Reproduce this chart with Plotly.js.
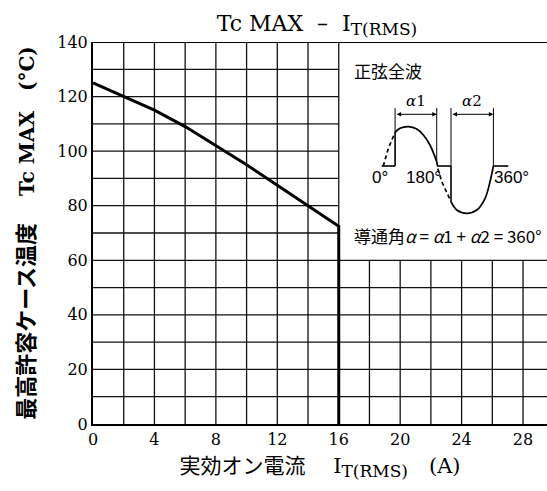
<!DOCTYPE html>
<html>
<head>
<meta charset="utf-8">
<script src="https://cdn.plot.ly/plotly-3.0.1.min.js"></script>
<style>html,body{margin:0;padding:0;background:#fff;}#chart{width:547px;height:491px;}</style>
</head>
<body>
<div id="chart"></div>
<script>
// ---- main curve: case temperature limit vs RMS on-current ----
const currentA = [0, 2, 4, 6, 8, 10, 12, 14, 16];
const tcMaxC   = [125, 120, 115, 109, 102, 95, 87.5, 80, 72.5];

// ---- tick labels ----
const xTickVals = [0, 4, 8, 12, 16, 20, 24, 28];
const yTickVals = [0, 20, 40, 60, 80, 100, 120, 140];

// ---- grid ----
const xGridVals = [2, 4, 6, 8, 10, 12, 14, 16, 18, 20, 22, 24, 26, 28];
const yGridVals = [10, 20, 30, 40, 50, 60, 70, 80, 90, 100, 110, 120, 130];

// ---- inset waveform sketch ----
const waveDash1X = [18.90, 19.23, 19.67];
const waveDash1Y = [94.55, 101.04, 106.9];
const wavePosX = [19.67, 19.99, 20.53, 21.08, 21.51, 21.94, 22.38];
const wavePosY = [106.9, 108.37, 108.96, 108.11, 105.91, 102.25, 96.13];
const waveDash2X = [22.38, 22.48, 22.71, 22.99, 23.31];
const waveDash2Y = [96.13, 93.09, 88.80, 85.14, 81.47];
const waveNegX = [23.31, 23.68, 24.33, 24.99, 25.53, 25.85, 26.07];
const waveNegY = [81.47, 78.43, 77.22, 78.43, 82.72, 88.80, 94.55];
const baseY = 94.55;
const baseSegsX = [[18.80, 19.67], [22.38, 23.31], [26.07, 27.04]];
const fireX = [19.67, 23.31];
const fireTopY = [106.9, 81.47];
const guideX = [19.67, 22.38, 23.31, 26.07];
const guideBottomY = [106.9, 96.13, 94.55, 94.55];
const guideTopY = 115.8;
const arrowY = 113.5;

const xMax = 29.56;
const insetX = 16, insetY = 60, yTop = 140;

const serif = 'DejaVu Serif, Noto Sans CJK JP, serif';
const cjk = 'Noto Sans CJK JP, sans-serif';

const shapes = [];
xGridVals.forEach(v => {
  shapes.push({type:'line', xref:'x', yref:'y', x0:v, x1:v, y0:0, y1: v <= insetX ? yTop : insetY,
    line:{color:'#111', width:1.3}, layer:'below'});
});
yGridVals.forEach(v => {
  shapes.push({type:'line', xref:'x', yref:'y', x0:0, x1: v <= insetY ? xMax : insetX, y0:v, y1:v,
    line:{color:'#111', width:1.3}, layer:'below'});
});
shapes.push({type:'line', xref:'x', yref:'y', x0:0, x1:xMax, y0:yTop, y1:yTop, line:{color:'#000', width:2.2}});

baseSegsX.forEach(s => shapes.push({type:'line', xref:'x', yref:'y', x0:s[0], x1:s[1], y0:baseY, y1:baseY, line:{color:'#000', width:1.6}}));
fireX.forEach((x, i) => shapes.push({type:'line', xref:'x', yref:'y', x0:x, x1:x, y0:baseY, y1:fireTopY[i], line:{color:'#000', width:1.6}}));
guideX.forEach((x, i) => shapes.push({type:'line', xref:'x', yref:'y', x0:x, x1:x, y0:guideBottomY[i], y1:guideTopY, line:{color:'#000', width:1}}));

const waveLine = {color:'#000', width:1.7};
const traces = [
  {x: currentA.concat([currentA[currentA.length-1]]), y: tcMaxC.concat([0]), mode:'lines',
   line:{color:'#000', width:3}, hoverinfo:'skip'},
  {x: waveDash1X, y: waveDash1Y, mode:'lines', line:Object.assign({dash:'4px,3px'}, waveLine), hoverinfo:'skip'},
  {x: wavePosX, y: wavePosY, mode:'lines', line:Object.assign({shape:'spline'}, waveLine), hoverinfo:'skip'},
  {x: waveDash2X, y: waveDash2Y, mode:'lines', line:Object.assign({dash:'4px,3px'}, waveLine), hoverinfo:'skip'},
  {x: waveNegX, y: waveNegY, mode:'lines', line:Object.assign({shape:'spline'}, waveLine), hoverinfo:'skip'}
];

const ann = [
  {x:16.85, y:129.7, xref:'x', yref:'y', xanchor:'left', yanchor:'middle', showarrow:false,
   text:'正弦全波', font:{family:cjk, size:17, color:'#000'}},
  {x:16.85, y:69, xref:'x', yref:'y', xanchor:'left', yanchor:'middle', showarrow:false,
   text:'導通角<i>α</i> = <i>α</i>1 + <i>α</i>2 = 360°', font:{family:cjk, size:17, color:'#000'}},
  {x:18.66, y:90.4, xref:'x', yref:'y', showarrow:false, text:'0°', font:{family:'Liberation Sans, sans-serif', size:17, color:'#000'}},
  {x:21.55, y:90.4, xref:'x', yref:'y', showarrow:false, text:'180°', font:{family:'Liberation Sans, sans-serif', size:17, color:'#000'}},
  {x:27.28, y:90.4, xref:'x', yref:'y', showarrow:false, text:'360°', font:{family:'Liberation Sans, sans-serif', size:17, color:'#000'}},
  {x:21.01, y:118.2, xref:'x', yref:'y', showarrow:false, text:'<i>α</i>1', font:{family:serif, size:15, color:'#000'}},
  {x:24.66, y:118.2, xref:'x', yref:'y', showarrow:false, text:'<i>α</i>2', font:{family:serif, size:15, color:'#000'}},
  {x:guideX[1], y:arrowY, ax:guideX[0], ay:arrowY, xref:'x', yref:'y', axref:'x', ayref:'y', text:'',
   showarrow:true, arrowside:'end+start', arrowhead:2, arrowsize:0.9, arrowwidth:1, arrowcolor:'#000'},
  {x:guideX[3], y:arrowY, ax:guideX[2], ay:arrowY, xref:'x', yref:'y', axref:'x', ayref:'y', text:'',
   showarrow:true, arrowside:'end+start', arrowhead:2, arrowsize:0.9, arrowwidth:1, arrowcolor:'#000'}
];

const layout = {
  width:547, height:491,
  margin:{l:93, r:0, t:42, b:67},
  paper_bgcolor:'#fff', plot_bgcolor:'#fff',
  showlegend:false,
  title:{text:'Tc MAX  –  I<sub><span style="font-size:17px">T(RMS)</span></sub>', font:{family:serif, size:22, color:'#000'},
         x:317/547, xanchor:'center', xref:'container', y:1-23/491, yanchor:'middle', yref:'container'},
  xaxis:{range:[0, xMax], tickvals:xTickVals, ticktext:xTickVals.map(String), showgrid:false, zeroline:false,
         showline:true, linecolor:'#000', linewidth:2, ticks:'', tickfont:{family:serif, size:16, color:'#000'},
         title:{text:'実効オン電流　 I<sub><span style="font-size:17px">T(RMS)</span></sub>　(A)', font:{family:serif, size:21, color:'#000'}, standoff:10},
         fixedrange:true},
  yaxis:{range:[0, 140], tickvals:yTickVals, ticktext:yTickVals.map(String), showgrid:false, zeroline:false,
         showline:true, linecolor:'#000', linewidth:2, ticks:'', tickfont:{family:serif, size:16, color:'#000'},
         title:{text:'<span style="font-size:22px">最高許容ケース温度</span>　 Tc MAX　(°C)', font:{family:serif, size:20, color:'#000', weight:'bold'}, standoff:17},
         fixedrange:true},
  shapes:shapes,
  annotations:ann
};

Plotly.newPlot('chart', traces, layout, {staticPlot:true, displayModeBar:false});
</script>
</body>
</html>
